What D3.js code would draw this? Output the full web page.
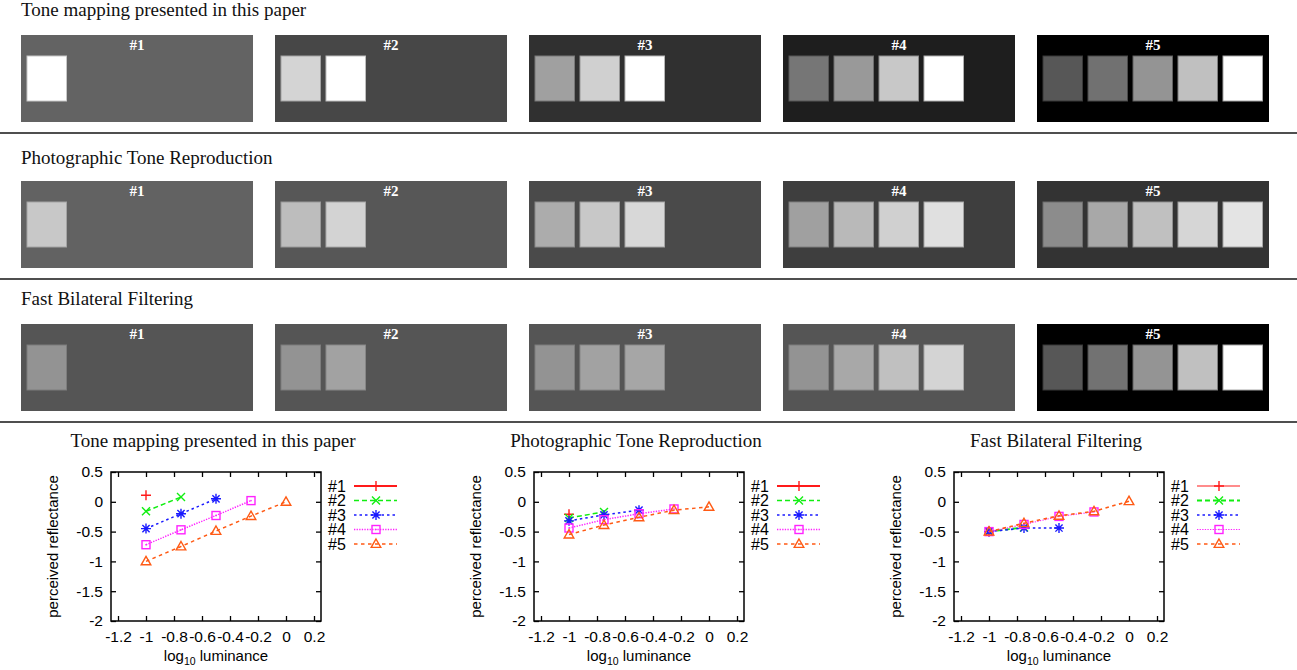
<!DOCTYPE html>
<html>
<head>
<meta charset="utf-8">
<script src="https://cdn.jsdelivr.net/npm/d3@7"></script>
<style>
  html, body { margin: 0; padding: 0; background: #fff; }
  svg { display: block; }
</style>
</head>
<body>
<script>
// ---------------- DATA ----------------
const sectionTitles = ["Tone mapping presented in this paper", "Photographic Tone Reproduction", "Fast Bilateral Filtering"];
const panelLabels = ["#1", "#2", "#3", "#4", "#5"];

// gray levels (0-255) of panel backgrounds and their squares
const toneBg = [99, 71, 48, 30, 0];
const toneSquares = [[255], [212, 255], [160, 208, 255], [118, 153, 200, 255], [87, 113, 148, 192, 255]];
const photoBg = [98, 87, 74, 62, 51];
const photoSquares = [[200], [189, 211], [172, 200, 216], [160, 185, 208, 224], [140, 168, 192, 214, 228]];
const bilatBg = [85, 85, 85, 85, 0];
const bilatSquares = [[147], [147, 162], [147, 162, 166], [147, 168, 192, 212], [87, 114, 148, 192, 255]];

// chart data: x = log10 luminance, y = perceived reflectance
const xLevels = [-1, -0.75, -0.5, -0.25, 0];
const toneSeries = [[0.11], [-0.16, 0.08], [-0.45, -0.2, 0.05], [-0.72, -0.47, -0.23, 0.02], [-1.0, -0.75, -0.49, -0.24, 0.0]];
const photoSeries = [[-0.21], [-0.27, -0.17], [-0.32, -0.22, -0.14], [-0.44, -0.30, -0.20, -0.12], [-0.55, -0.39, -0.26, -0.14, -0.085]];
const bilatSeries = [[-0.5], [-0.5, -0.43], [-0.5, -0.44, -0.44], [-0.5, -0.38, -0.245, -0.17], [-0.5, -0.36, -0.235, -0.16, 0.01]];

const xTicks = [-1.2, -1, -0.8, -0.6, -0.4, -0.2, 0, 0.2];
const yTicks = [0.5, 0, -0.5, -1, -1.5, -2];
const seriesNames = ["#1", "#2", "#3", "#4", "#5"];

// ---------------- STYLE ----------------
const seriesColors = ["#ff1a1a", "#11ee11", "#1a1aff", "#ff22ff", "#ff5a14"];
const seriesDash = [null, "5,3", "2.5,3", "1.3,1.3", "3.5,3.5"];
const seriesWidthA = [2, 1.5, 1.5, 1.5, 1.5];
const seriesWidthB = [1.1, 1.8, 1.6, 1.1, 1.6];

const W = 1297, H = 670;
const svg = d3.select("body").append("svg").attr("width", W).attr("height", H);

const serif = "'Liberation Serif', 'Times New Roman', serif";
const sans = "'Liberation Sans', Arial, Helvetica, sans-serif";

// ---------------- PANELS ----------------
const sections = [
  {title: sectionTitles[0], bg: toneBg, sq: toneSquares, titleY: 16, top: 35},
  {title: sectionTitles[1], bg: photoBg, sq: photoSquares, titleY: 164, top: 181},
  {title: sectionTitles[2], bg: bilatBg, sq: bilatSquares, titleY: 305, top: 324}
];
const separatorsY = [133, 279, 422];

const panelX = d3.scaleBand().domain(panelLabels).range([21, 1269]).paddingInner(0.0866).paddingOuter(0);
const sqX = d3.scaleLinear().domain([0, 1]).range([6, 51]);
const panelH = 87, sqTop = 21, sqH = 45, sqW = 39.5;
const gray = v => d3.rgb(v, v, v).formatHex();

sections.forEach(sec => {
  const g = svg.append("g");
  g.append("text").attr("x", 21).attr("y", sec.titleY)
    .attr("font-family", serif).attr("font-size", 19).attr("fill", "#111")
    .text(sec.title);
  panelLabels.forEach((lab, i) => {
    const px = panelX(lab);
    g.append("rect").attr("x", px).attr("y", sec.top)
      .attr("width", panelX.bandwidth()).attr("height", panelH)
      .attr("fill", gray(sec.bg[i]));
    sec.sq[i].forEach((v, j) => {
      const edge = d3.interpolateRgb(gray(v), gray(sec.bg[i]))(0.35);
      g.append("rect").attr("x", px + sqX(j)).attr("y", sec.top + sqTop)
        .attr("width", sqW).attr("height", sqH)
        .attr("fill", gray(v)).attr("stroke", edge).attr("stroke-width", 1);
    });
    g.append("text").attr("x", px + panelX.bandwidth() / 2).attr("y", sec.top + 15)
      .attr("text-anchor", "middle").attr("font-family", serif)
      .attr("font-weight", "bold").attr("font-size", 15).attr("fill", "#fff")
      .text(lab);
  });
});

separatorsY.forEach(y => {
  svg.append("line").attr("x1", 0).attr("x2", W).attr("y1", y).attr("y2", y)
    .attr("stroke", "#151515").attr("stroke-width", 1.6);
});

// ---------------- CHARTS ----------------
const charts = [
  {title: sectionTitles[0], series: toneSeries, left: 111, widths: seriesWidthA},
  {title: sectionTitles[1], series: photoSeries, left: 534, widths: seriesWidthA},
  {title: sectionTitles[2], series: bilatSeries, left: 954, widths: seriesWidthB}
];
const cTop = 472, cW = 210, cH = 149;

function marker(sel, k, color) {
  const s = sel.append("g").attr("fill", "none").attr("stroke", color).attr("stroke-width", 1.4);
  if (k === 0) {
    s.append("path").attr("d", "M-5,0H5M0,-5V5");
  } else if (k === 1) {
    s.append("path").attr("d", "M-4,-4L4,4M-4,4L4,-4");
  } else if (k === 2) {
    s.append("path").attr("d", "M-5,0H5M0,-5V5M-3.6,-3.6L3.6,3.6M-3.6,3.6L3.6,-3.6");
  } else if (k === 3) {
    s.append("rect").attr("x", -4).attr("y", -4).attr("width", 8).attr("height", 8);
    s.append("rect").attr("x", -0.7).attr("y", -0.7).attr("width", 1.4).attr("height", 1.4)
      .attr("fill", color).attr("stroke", "none");
  } else {
    s.append("path").attr("d", "M0,-5L4.8,3.4H-4.8Z");
  }
  return s;
}

charts.forEach(ch => {
  const g = svg.append("g").attr("transform", `translate(${ch.left},${cTop})`);
  const x = d3.scaleLinear().domain([-1.25, 0.25]).range([0, cW]);
  const y = d3.scaleLinear().domain([-2, 0.5]).range([cH, 0]);

  // title
  svg.append("text").attr("x", ch.left + cW / 2 - 3).attr("y", 447)
    .attr("text-anchor", "middle").attr("font-family", serif).attr("font-size", 19)
    .attr("fill", "#111").text(ch.title);

  const fmt = d => String(d);
  const styleAxis = a => {
    a.select(".domain").remove();
    a.selectAll("line").attr("stroke", "#000").attr("stroke-width", 1.3);
    a.selectAll("text").attr("font-family", sans).attr("font-size", 15.5).attr("fill", "#000");
  };
  g.append("g").call(d3.axisLeft(y).tickValues(yTicks).tickFormat(fmt).tickSizeInner(-5).tickSizeOuter(0).tickPadding(8)).call(styleAxis);
  g.append("g").attr("transform", `translate(${cW},0)`).call(d3.axisRight(y).tickValues(yTicks).tickFormat("").tickSizeInner(-5).tickSizeOuter(0)).call(styleAxis);
  g.append("g").attr("transform", `translate(0,${cH})`).call(d3.axisBottom(x).tickValues(xTicks).tickFormat(fmt).tickSizeInner(-5).tickSizeOuter(0).tickPadding(10)).call(styleAxis);
  g.append("g").call(d3.axisTop(x).tickValues(xTicks).tickFormat("").tickSizeInner(-5).tickSizeOuter(0)).call(styleAxis);

  g.append("rect").attr("width", cW).attr("height", cH).attr("fill", "none")
    .attr("stroke", "#000").attr("stroke-width", 1.5);

  // axis labels
  const xl = g.append("text").attr("x", cW / 2).attr("y", cH + 40)
    .attr("text-anchor", "middle").attr("font-family", sans).attr("font-size", 15).attr("fill", "#000");
  xl.append("tspan").text("log");
  xl.append("tspan").attr("font-size", 10.5).attr("dy", 4).text("10");
  xl.append("tspan").attr("dy", -4).text(" luminance");

  g.append("text").attr("transform", `translate(-53,${cH / 2}) rotate(-90)`)
    .attr("text-anchor", "middle").attr("font-family", sans).attr("font-size", 15).attr("fill", "#000")
    .text("perceived reflectance");

  // series
  const line = d3.line().x(d => x(d[0])).y(d => y(d[1]));
  ch.series.forEach((vals, k) => {
    const pts = vals.map((v, i) => [xLevels[i], v]);
    if (pts.length > 1) {
      g.append("path").datum(pts).attr("d", line).attr("fill", "none")
        .attr("stroke", seriesColors[k]).attr("stroke-width", ch.widths[k])
        .attr("stroke-dasharray", seriesDash[k]);
    }
    pts.forEach(p => {
      marker(g, k, seriesColors[k]).attr("transform", `translate(${x(p[0])},${y(p[1])})`);
    });
  });

  // legend
  seriesNames.forEach((name, k) => {
    const ly = 14 + k * 14.5;
    g.append("text").attr("x", cW + 7).attr("y", ly).attr("dy", "0.36em")
      .attr("font-family", sans).attr("font-size", 16).attr("fill", "#000").text(name);
    g.append("line").attr("x1", cW + 33).attr("x2", cW + 76).attr("y1", ly).attr("y2", ly)
      .attr("stroke", seriesColors[k]).attr("stroke-width", ch.widths[k])
      .attr("stroke-dasharray", seriesDash[k]);
    marker(g, k, seriesColors[k]).attr("transform", `translate(${cW + 55},${ly})`);
  });
});
</script>
</body>
</html>
